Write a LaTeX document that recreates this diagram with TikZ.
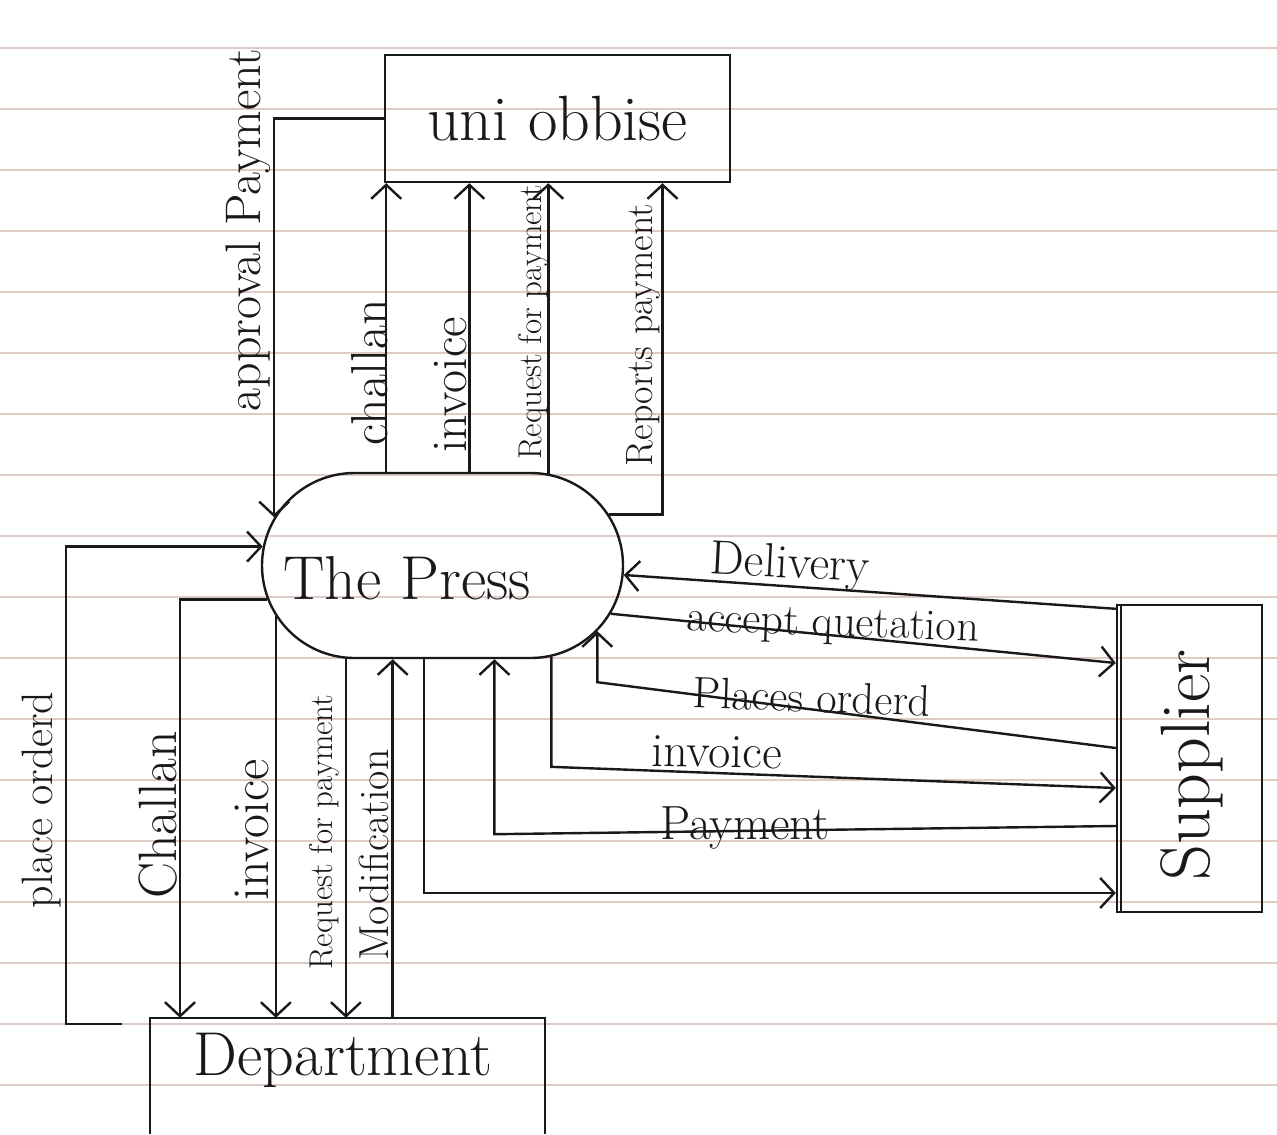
\documentclass[tikz,border=0pt]{standalone}
\usetikzlibrary{arrows.meta,shapes.misc,calc}
\definecolor{ruledc}{RGB}{222,204,196}
\definecolor{ink}{RGB}{25,25,25}
\tikzset{
  plain/.style={line width=2.4pt, draw=ink},
  flow/.style={plain, -{Straight Barb[length=14pt,width=30pt]}},
  box/.style={draw=ink, line width=2.4pt, inner sep=0pt},
  lbl/.style={font=\fontsize{#1}{#1}\selectfont, inner sep=0pt, text=ink},
  vlbl/.style={lbl=#1, rotate=90},
  ruled/.style={line width=1.3pt, draw=ruledc},
}
\begin{document}
\begin{tikzpicture}[x=1pt,y=-1pt]
\useasboundingbox (0,0) rectangle (1277,1135);
\clip (0,0) rectangle (1277,1135);
\fill[white] (0,0) rectangle (1277,1135);
\foreach \k in {0,...,17} \draw[ruled] (0,{48+61*\k}) -- (1277,{48+61*\k});

% entities
\node[box, minimum width=345pt, minimum height=127pt, lbl=64] (uni) at (557.5,118.5) {uni obbise};
\node[rounded rectangle, draw=ink, line width=2.4pt, minimum width=361pt, minimum height=185pt, inner sep=0pt] (press) at (442.5,565.5) {};
\node[lbl=62] (presst) at (407,578) {The Press};
\node[box, minimum width=145pt, minimum height=307pt] (sup) at (1189.5,758.5) {};
\draw[plain] ([xshift=5pt]sup.north west) -- ([xshift=5pt]sup.south west);
\node[vlbl=70] (supt) at (1192,765) {Supplier};
\node[minimum width=395pt, minimum height=116pt, inner sep=0pt] (dept) at (347.5,1076) {};
\draw[plain] (dept.south west) -- (dept.north west) -- (dept.north east) -- (dept.south east);
\node[lbl=62] (deptt) at (343,1060) {Department};

% press <-> uni obbise
\draw[flow] (uni.west) -| (press.164.2);
\draw[flow] (press.121.9) -- (press.121.9 |- uni.south);
\draw[flow] (press.74.6) -- (press.74.6 |- uni.south);
\draw[flow] (press.41.7) -- (press.41.7 |- uni.south);
\draw[flow] (press.17.7) -| ([xshift=105pt]uni.south);
\node[vlbl=50] (l1) at (248,230) {approval Payment};
\node[vlbl=52] (l2) at (370,372) {challan};
\node[vlbl=50] (l3) at (451,385) {invoice};
\node[vlbl=33] (l4) at (533,322) {Request for payment};
\node[vlbl=38] (l5) at (643,335) {Reports payment};

% press <-> supplier
\draw[flow] ([yshift=-5pt]sup.north west) -- (press.-3.0);
\draw[flow] (press.-16.6) -- ([yshift=95.5pt]sup.west);
\draw[flow] ([yshift=10.5pt]sup.west) -- ([yshift=-51pt]press.-23.5) -- (press.-23.5);
\draw[flow] (press.-40.7) -- ([yshift=-110pt]press.-40.7) -- ([yshift=-29.5pt]sup.west);
\draw[flow] ([yshift=-67.5pt]sup.west) -- ([yshift=-175pt]press.-61.4) -- (press.-61.4);
\draw[flow] (press.259.3) |- ([yshift=-134.5pt]sup.west);
\node[lbl=48, rotate=-3] (l6) at (790,566) {Delivery};
\node[lbl=44, rotate=-2] (l7) at (833,626) {accept quetation};
\node[lbl=44, rotate=-2] (l8) at (812,697) {Places orderd};
\node[lbl=48, rotate=-1] (l9) at (717,752) {invoice};
\node[lbl=48] (l10) at (745,828) {Payment};

% press <-> department
\draw[flow] ([xshift=-28pt,yshift=-6pt]dept.north west) -- ++(-56,0) |- (press.174.4);
\draw[flow] (press.191.2) -| ([xshift=-167.5pt]dept.north);
\draw[flow] (press.197.5) -- (press.197.5 |- dept.north);
\draw[flow] (press.224.3) -- (press.224.3 |- dept.north);
\draw[flow] (press.242.8 |- dept.north) -- (press.242.8);
\node[vlbl=44] (l11) at (42,800) {place orderd};
\node[vlbl=54] (l12) at (158,815) {Challan};
\node[vlbl=52] (l13) at (252,830) {invoice};
\node[vlbl=33] (l14) at (324,832) {Request for payment};
\node[vlbl=42] (l15) at (374,855) {Modification};
\end{tikzpicture}
\end{document}
